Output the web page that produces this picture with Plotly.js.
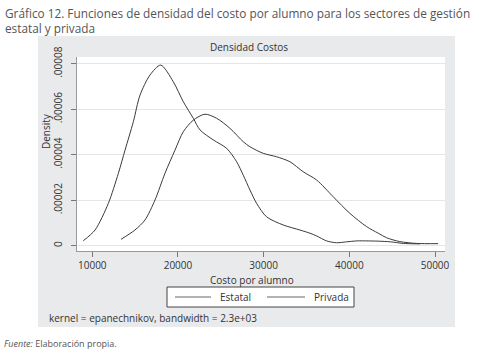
<!DOCTYPE html>
<html>
<head>
<meta charset="utf-8">
<script src="https://cdn.plot.ly/plotly-3.0.1.min.js"></script>
<style>html,body{margin:0;padding:0;background:#fff;}#chart{width:495px;height:357px;}</style>
</head>
<body>
<div id="chart"></div>
<script>
// Data
var estatalX = [8950, 10320, 11870, 13040, 13820, 14790, 15570, 16730, 17980, 19450, 20620, 21790, 22570, 24120, 25680, 26850, 27620, 28400, 29180, 30340, 32290, 34230, 35400, 36180, 37350, 38510, 39700, 40850, 42200, 43370, 44800, 46290, 48240];
var estatalY = [2.2e-6, 6.9e-6, 1.86e-5, 3.18e-5, 4.2e-5, 5.45e-5, 6.62e-5, 7.5e-5, 7.94e-5, 7.21e-5, 6.33e-5, 5.6e-5, 5.09e-5, 4.65e-5, 4.28e-5, 3.69e-5, 3.1e-5, 2.45e-5, 1.86e-5, 1.27e-5, 9.1e-6, 6.9e-6, 5.5e-6, 4.3e-6, 2.1e-6, 1.3e-6, 1.7e-6, 2.1e-6, 2.1e-6, 2.0e-6, 1.7e-6, 1.0e-6, 8e-7];
var privadaX = [13350, 14980, 16150, 17320, 18480, 19650, 20620, 21790, 23150, 24520, 26070, 27620, 28400, 29950, 31510, 33070, 34620, 36180, 38120, 40070, 42010, 43370, 44350, 45900, 47850, 50370];
var privadaY = [2.8e-6, 6.9e-6, 1.13e-5, 2.01e-5, 3.18e-5, 4.2e-5, 5.01e-5, 5.52e-5, 5.78e-5, 5.6e-5, 5.16e-5, 4.57e-5, 4.35e-5, 4.06e-5, 3.91e-5, 3.69e-5, 3.25e-5, 2.89e-5, 2.15e-5, 1.42e-5, 8.4e-6, 5.5e-6, 3.5e-6, 1.8e-6, 1.0e-6, 9e-7];
var seriesNames = ["Estatal", "Privada"];
var xTickVals = [10000, 20000, 30000, 40000, 50000];
var xTickText = ["10000", "20000", "30000", "40000", "50000"];
var yTickVals = [0, 0.00002, 0.00004, 0.00006, 0.00008];
var yTickText = ["0", ".00002", ".00004", ".00006", ".00008"];

var W = 495, H = 357;
var L = 77, R = 445, T = 57, B = 251;
var pw = R - L, ph = B - T;
function px(x) { return (x - L) / pw; }
function py(y) { return (B - y) / ph; }

var FONT = "Open Sans, DejaVu Sans, sans-serif";
var CURVE = "#3a3a3a";
var lineStyle = {color: CURVE, width: 1, shape: "spline", smoothing: 0.8};

var traces = [
  {x: estatalX, y: estatalY, name: seriesNames[0], type: "scatter", mode: "lines", line: lineStyle, hoverinfo: "skip"},
  {x: privadaX, y: privadaY, name: seriesNames[1], type: "scatter", mode: "lines", line: lineStyle, hoverinfo: "skip"}
];

// Legend (box, keys, labels) drawn as layout decoration
var legBox = {x0: 167, x1: 354, y0: 287, y1: 307};
var legKeys = [{x0: 175, x1: 211, tx: 218}, {x0: 267, x1: 305, tx: 312}];
var legY = 297;

var shapes = [
  {type: "rect", xref: "paper", yref: "paper", layer: "below",
   x0: px(38), x1: px(455), y0: py(327), y1: py(36),
   fillcolor: "#e9eaec", line: {width: 0}},
  {type: "rect", xref: "paper", yref: "paper", layer: "below",
   x0: px(77), x1: px(445), y0: py(251), y1: py(57),
   fillcolor: "#ffffff", line: {width: 0}},
  {type: "rect", xref: "paper", yref: "paper", layer: "above",
   x0: px(legBox.x0), x1: px(legBox.x1), y0: py(legBox.y1), y1: py(legBox.y0),
   fillcolor: "#ffffff", line: {color: "#444444", width: 1}}
];
var annotations = [
  {xref: "paper", yref: "paper", x: px(3), y: py(3), xanchor: "left", yanchor: "top", align: "left", showarrow: false,
   text: "Gráfico 12. Funciones de densidad del costo por alumno para los sectores de gestión<br>estatal y privada",
   font: {family: FONT, size: 11.8, color: "#555555"}},
  {xref: "paper", yref: "paper", x: px(249), y: py(47), xanchor: "center", yanchor: "middle", showarrow: false,
   text: "Densidad Costos", font: {family: FONT, size: 10, color: "#333333"}},
  {xref: "paper", yref: "paper", x: px(46), y: py(131), xanchor: "center", yanchor: "middle", showarrow: false,
   textangle: -90, text: "Density", font: {family: FONT, size: 10, color: "#333333"}},
  {xref: "paper", yref: "paper", x: px(252), y: py(280), xanchor: "center", yanchor: "middle", showarrow: false,
   text: "Costo por alumno", font: {family: FONT, size: 10, color: "#333333"}},
  {xref: "paper", yref: "paper", x: px(47), y: py(318), xanchor: "left", yanchor: "middle", showarrow: false,
   text: "kernel = epanechnikov, bandwidth = 2.3e+03", font: {family: FONT, size: 10, color: "#333333"}},
  {xref: "paper", yref: "paper", x: px(2), y: py(343), xanchor: "left", yanchor: "middle", showarrow: false,
   text: "<i>Fuente:</i> Elaboración propia.", font: {family: FONT, size: 9, color: "#555555"}}
];
legKeys.forEach(function (k, i) {
  shapes.push({type: "line", xref: "paper", yref: "paper", layer: "above",
    x0: px(k.x0), x1: px(k.x1), y0: py(legY), y1: py(legY),
    line: {color: "#666666", width: 1}});
  annotations.push({xref: "paper", yref: "paper", x: px(k.tx), y: py(legY), xanchor: "left", yanchor: "middle",
    showarrow: false, text: seriesNames[i], font: {family: FONT, size: 10, color: "#333333"}});
});

var layout = {
  width: W, height: H,
  margin: {l: L, r: W - R, t: T, b: H - B, pad: 0},
  paper_bgcolor: "#ffffff",
  plot_bgcolor: "#ffffff",
  font: {family: FONT, size: 10, color: "#333333"},
  showlegend: false,
  xaxis: {
    range: [8214, 51167],
    tickvals: xTickVals, ticktext: xTickText,
    ticks: "outside", ticklen: 5, tickcolor: "#777777", tickwidth: 1,
    showline: true, linecolor: "#999999", linewidth: 1,
    showgrid: false, zeroline: false,
    tickfont: {family: FONT, size: 10, color: "#333333"}
  },
  yaxis: {
    range: [-0.00000233, 0.00008295],
    tickvals: yTickVals, ticktext: yTickText,
    tickangle: -90,
    ticks: "outside", ticklen: 5, tickcolor: "#777777", tickwidth: 1,
    ticklabelstandoff: 5,
    showline: true, linecolor: "#999999", linewidth: 1,
    showgrid: true, gridcolor: "#e6e6e6", gridwidth: 1,
    zeroline: false,
    tickfont: {family: FONT, size: 10, color: "#333333"}
  },
  shapes: shapes,
  annotations: annotations
};

Plotly.newPlot("chart", traces, layout, {staticPlot: true, displayModeBar: false});
</script>
</body>
</html>
